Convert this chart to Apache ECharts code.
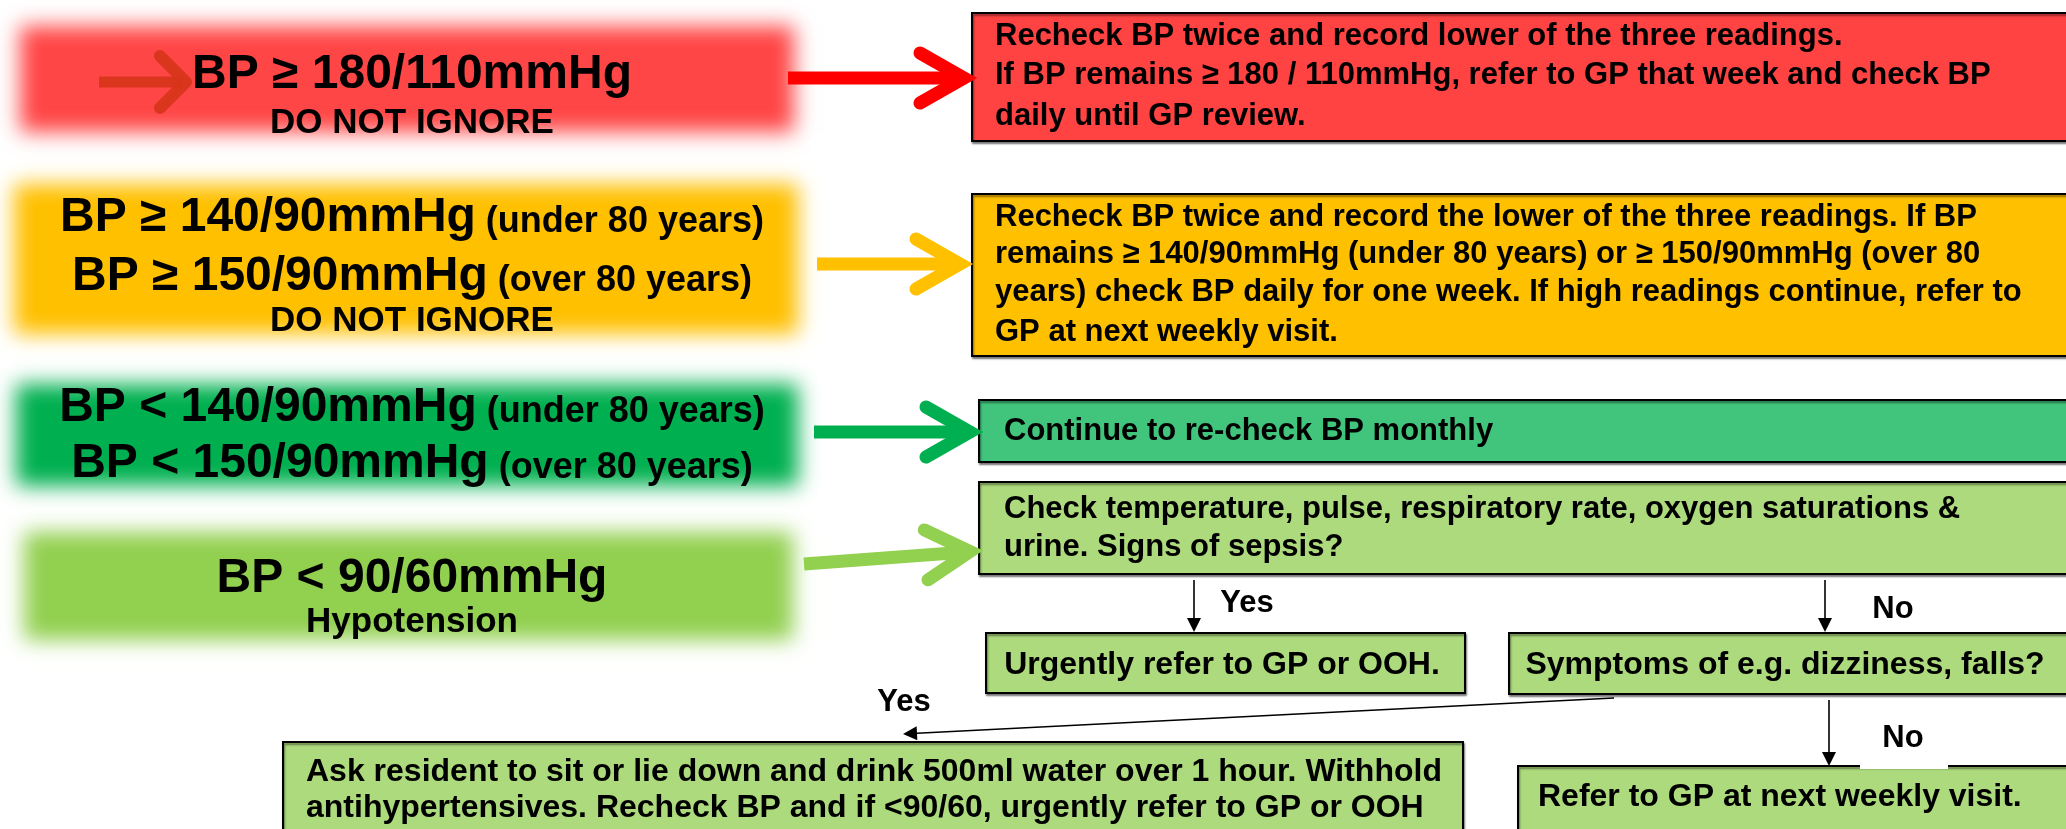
<!DOCTYPE html>
<html><head><meta charset="utf-8">
<script src="https://cdn.jsdelivr.net/npm/echarts@6/dist/echarts.min.js"></script>
<style>html,body{margin:0;padding:0;background:#fff}#c{width:2066px;height:829px}</style>
</head><body><div id="c"></div>
<script>
// ---------------- data (texts of the flowchart) ----------------
const conditionMain = [
  ['BP ≥ 180/110mmHg'],
  ['BP ≥ 140/90mmHg', 'BP ≥ 150/90mmHg'],
  ['BP < 140/90mmHg', 'BP < 150/90mmHg'],
  ['BP < 90/60mmHg']
];
const conditionAge = [
  [''],
  ['(under 80 years)', '(over 80 years)'],
  ['(under 80 years)', '(over 80 years)'],
  ['']
];
const conditionNote = ['DO NOT IGNORE', 'DO NOT IGNORE', '', 'Hypotension'];
const actionLines = [
  ['Recheck BP twice and record lower of the three readings.',
   'If BP remains ≥ 180 / 110mmHg, refer to GP that week and check BP',
   'daily until GP review.'],
  ['Recheck BP twice and record the lower of the three readings. If BP',
   'remains ≥ 140/90mmHg (under 80 years) or ≥ 150/90mmHg (over 80',
   'years) check BP daily for one week. If high readings continue, refer to',
   'GP at next weekly visit.'],
  ['Continue to re-check BP monthly'],
  ['Check temperature, pulse, respiratory rate, oxygen saturations &',
   'urine. Signs of sepsis?']
];
const outcomeLines = [
  ['Urgently refer to GP or OOH.'],
  ['Symptoms of e.g. dizziness, falls?'],
  ['Ask resident to sit or lie down and drink 500ml water over 1 hour. Withhold',
   'antihypertensives. Recheck BP and if <90/60, urgently refer to GP or OOH'],
  ['Refer to GP at next weekly visit.']
];
const branchLabels = ['Yes', 'No', 'Yes', 'No'];

// ---------------- layout (in axis units of a 2066 x 829 plane) ----------------
const L = {
  condBox: [[20, 26, 794, 132], [14, 184, 798, 334], [16, 384, 798, 486], [24, 532, 793, 640]],
  condColor: ['#FF4646', '#FFC000', '#00B050', '#92D050'],
  condCx: 412,
  condLineY: [[72, 123], [215, 274, 321], [405, 461], [576, 622]],
  actBox: [[972, 13, 2080, 141], [972, 194, 2080, 356], [979, 400, 2080, 462], [979, 482, 2080, 574]],
  actColor: ['#FF4343', '#FFC000', '#41C47B', '#ADDA7C'],
  actTextX: [995, 995, 1004, 1004],
  actLineY: [[36, 75, 116], [217, 254, 292, 332], [431], [509, 547]],
  outBox: [[986, 633, 1465, 693], [1509, 633, 2080, 694], [283, 742, 1463, 850], [1518, 766, 2080, 850]],
  outAlign: ['center', 'center', 'left', 'left'],
  outTextX: [1222, 1785, 306, 1538],
  outLineY: [[665], [665], [772, 808], [797]],
  bigArrows: [[788, 78, 972, 78], [817, 264, 968, 264], [814, 432, 978, 432], [804, 564, 978, 551]],
  bigArrowColor: ['#FF0000', '#FFC000', '#00B050', '#92D050'],
  smallArrow: [99, 82, 190, 82],
  thinArrows: [[1194, 580, 1194, 632], [1825, 580, 1825, 632], [1614, 698, 903, 734], [1829, 700, 1829, 766]],
  labelPos: [[1247, 603], [1893, 609], [904, 702], [1903, 738]],
  labelBg: [[1198, 580, 1299, 631], [1860, 586, 1930, 630], [870, 682, 940, 724], [1860, 712, 1948, 769]]
};

const FF = '"Liberation Sans", Arial, Helvetica, sans-serif';
const OFF = 4000;

function rectFrom(api, b) {
  const p0 = api.coord([b[0], b[1]]);
  const p1 = api.coord([b[2], b[3]]);
  return { x: p0[0], y: p0[1], width: p1[0] - p0[0], height: p1[1] - p0[1] };
}

function renderCondition(params, api) {
  const i = params.dataIndex;
  const color = L.condColor[i];
  const r = rectFrom(api, L.condBox[i]);
  // feathered box: only the blurred shadow of an off-screen rect is visible
  const children = [{
    type: 'rect', shape: { x: r.x - OFF, y: r.y, width: r.width, height: r.height },
    style: { fill: color, shadowBlur: 20, shadowColor: color, shadowOffsetX: OFF, shadowOffsetY: 0 }
  }];
  if (i === 0) {
    const a = L.smallArrow;
    const s = api.coord([a[0], a[1]]), e = api.coord([a[2], a[3]]);
    children.push({ type: 'line', shape: { x1: s[0], y1: s[1], x2: e[0] - 8, y2: e[1] },
      style: { stroke: 'rgba(214,52,26,0.9)', lineWidth: 11 } });
    children.push({ type: 'polyline', shape: { points: [[e[0] - 30, e[1] - 26], [e[0] - 4, e[1]], [e[0] - 30, e[1] + 26]] },
      style: { stroke: 'rgba(214,52,26,0.9)', lineWidth: 12, lineCap: 'round', lineJoin: 'round', fill: null } });
  }
  const ys = L.condLineY[i];
  const cx = api.coord([L.condCx, 0])[0];
  conditionMain[i].forEach(function (m, j) {
    const age = conditionAge[i][j];
    const p = api.coord([L.condCx, ys[j]]);
    children.push({
      type: 'text',
      style: {
        x: cx, y: p[1], align: 'center', verticalAlign: 'middle',
        text: '{m|' + m + '}' + (age ? '{s| ' + age + '}' : ''),
        rich: {
          m: { fontSize: 48, fontWeight: 'bold', fontFamily: FF, fill: '#000', verticalAlign: 'bottom', lineHeight: 54 },
          s: { fontSize: 36, fontWeight: 'bold', fontFamily: FF, fill: '#000', verticalAlign: 'bottom', lineHeight: 54, padding: [0, 0, 2, 0] }
        }
      }
    });
  });
  if (conditionNote[i]) {
    const p = api.coord([L.condCx, ys[conditionMain[i].length]]);
    children.push({ type: 'text', style: { x: cx, y: p[1], align: 'center', verticalAlign: 'middle',
      text: conditionNote[i], fontSize: 35, fontWeight: 'bold', fontFamily: FF, fill: '#000' } });
  }
  return { type: 'group', children: children };
}

function boxWithText(api, box, fill, lines, lineYs, tx, align, fs) {
  const children = [{
    type: 'rect', shape: rectFrom(api, box),
    style: { fill: fill, stroke: '#000', lineWidth: 2, shadowBlur: 2, shadowOffsetX: 1, shadowOffsetY: 2, shadowColor: 'rgba(0,0,0,0.45)' }
  }];
  lines.forEach(function (t, j) {
    const p = api.coord([tx, lineYs[j]]);
    children.push({ type: 'text', style: { x: p[0], y: p[1], align: align, verticalAlign: 'middle',
      text: t, fontSize: fs, fontWeight: 'bold', fontFamily: FF, fill: '#000' } });
  });
  return children;
}

function renderAction(params, api) {
  const i = params.dataIndex;
  return { type: 'group', children: boxWithText(api, L.actBox[i], L.actColor[i], actionLines[i], L.actLineY[i], L.actTextX[i], 'left', 31) };
}

function renderOutcome(params, api) {
  const i = params.dataIndex;
  return { type: 'group', children: boxWithText(api, L.outBox[i], '#ADDA7C', outcomeLines[i], L.outLineY[i], L.outTextX[i], L.outAlign[i], 32) };
}

function renderBigArrow(params, api) {
  const i = params.dataIndex;
  const a = L.bigArrows[i];
  const s = api.coord([a[0], a[1]]), e = api.coord([a[2], a[3]]);
  const ang = Math.atan2(e[1] - s[1], e[0] - s[0]);
  const back = 44, half = 25;
  const c = Math.cos(ang), sn = Math.sin(ang);
  const pt = function (bx, by) { return [e[0] + bx * c - by * sn, e[1] + bx * sn + by * c]; };
  const color = L.bigArrowColor[i];
  return { type: 'group', children: [
    { type: 'line', shape: { x1: s[0], y1: s[1], x2: e[0] - 12 * c, y2: e[1] - 12 * sn },
      style: { stroke: color, lineWidth: 13 } },
    { type: 'polyline', shape: { points: [pt(-back - 8, -half), pt(-8, 0), pt(-back - 8, half)] },
      style: { stroke: color, lineWidth: 13, lineCap: 'round', lineJoin: 'miter', fill: null } }
  ] };
}

function renderThin(params, api) {
  const i = params.dataIndex;
  const a = L.thinArrows[i];
  const s = api.coord([a[0], a[1]]), e = api.coord([a[2], a[3]]);
  const ang = Math.atan2(e[1] - s[1], e[0] - s[0]);
  const c = Math.cos(ang), sn = Math.sin(ang);
  const len = 14, hw = 7;
  const pt = function (bx, by) { return [e[0] + bx * c - by * sn, e[1] + bx * sn + by * c]; };
  const bg = rectFrom(api, L.labelBg[i]);
  const lp = api.coord(L.labelPos[i]);
  return { type: 'group', children: [
    { type: 'rect', shape: bg, style: { fill: '#fff' } },
    { type: 'line', shape: { x1: s[0], y1: s[1], x2: e[0] - len * c, y2: e[1] - len * sn },
      style: { stroke: '#000', lineWidth: 1.6 } },
    { type: 'polygon', shape: { points: [pt(0, 0), pt(-len, -hw), pt(-len, hw)] }, style: { fill: '#000' } },
    { type: 'text', style: { x: lp[0], y: lp[1], align: 'center', verticalAlign: 'middle',
      text: branchLabels[i], fontSize: 31, fontWeight: 'bold', fontFamily: FF, fill: '#000' } }
  ] };
}

const idx = function (arr) { return arr.map(function (_, i) { return [i, i]; }); };

const chart = echarts.init(document.getElementById('c'), null, { renderer: 'canvas' });
chart.setOption({
  animation: false,
  backgroundColor: '#fff',
  grid: { left: 0, right: 0, top: 0, bottom: 0 },
  xAxis: { type: 'value', min: 0, max: 2066, show: false },
  yAxis: { type: 'value', min: 0, max: 829, inverse: true, show: false },
  series: [
    { type: 'custom', name: 'conditions', renderItem: renderCondition, data: idx(conditionMain), z: 2 },
    { type: 'custom', name: 'actions', renderItem: renderAction, data: idx(actionLines), z: 3 },
    { type: 'custom', name: 'outcomes', renderItem: renderOutcome, data: idx(outcomeLines), z: 3 },
    { type: 'custom', name: 'connectors', renderItem: renderThin, data: idx(branchLabels), z: 4 },
    { type: 'custom', name: 'arrows', renderItem: renderBigArrow, data: idx(L.bigArrows), z: 5 }
  ]
});
</script>
</body></html>
